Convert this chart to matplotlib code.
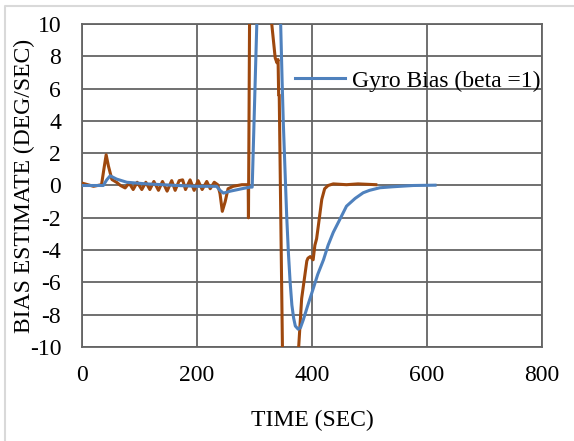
import matplotlib.pyplot as plt
from matplotlib.lines import Line2D

# gyro bias estimate, beta = 1
t_blue = [0, 20, 37, 43, 49, 60, 78, 112, 140, 165, 200, 234, 240, 246, 258, 278, 292,
          296, 304, 315, 325, 335, 345.5, 348, 350, 353, 356, 359, 362, 365, 368, 371,
          376, 380, 385, 392, 402, 410, 420, 428, 437, 447, 460, 475, 489, 500, 518,
          540, 576, 614]
b_blue = [0, 0, 0, 0.35, 0.6, 0.4, 0.2, 0.1, 0.05, 0, -0.05, -0.05, -0.3, -0.47, -0.35, -0.2, -0.1,
          -0.1, 10, 18, 21, 18, 10, 6.5, 4.0, 1.0, -1.9, -4.2, -6.0, -7.4, -8.2, -8.7,
          -8.9, -8.8, -8.3, -7.5, -6.4, -5.5, -4.6, -3.7, -2.9, -2.2, -1.28, -0.8, -0.45, -0.3, -0.14,
          -0.08, 0, 0.02]

# second estimate
t_brown = [0, 10, 20, 34, 38, 42, 46, 52, 60, 67, 75, 82, 89, 96, 104, 111, 118, 125, 133,
           140, 148, 156, 162, 169, 175, 180, 188, 195, 202, 209, 217, 223, 230, 236,
           240, 244, 249, 254, 263, 278, 286, 289, 289.5, 292, 300, 310, 320, 330,
           336, 339, 341, 342, 343, 350, 360, 370, 377, 382, 391, 393, 397, 402, 405,
           408, 411, 417, 422, 428, 437, 460, 480, 511]
b_brown = [0.15, 0.05, -0.05, 0.05, 1.0, 1.9, 1.2, 0.37, 0.2, 0.0, -0.15, 0.15, -0.25, 0.2, -0.25, 0.2, -0.25, 0.25, -0.3,
           0.25, -0.35, 0.3, -0.3, 0.3, 0.35, -0.25, 0.35, -0.3, 0.3, -0.25, 0.25, -0.2, 0.2, 0.05,
           -0.5, -1.6, -1.0, -0.2, -0.05, 0.05, 0.05, 0.05, -2.0, 14, 16, 15, 13, 10,
           7.9, 7.6, 7.8, 5.6, 5.6, -14, -16, -14, -9.9, -7.0, -4.67, -4.5, -4.4, -4.6, -3.7,
           -3.3, -2.5, -0.86, -0.2, 0.0, 0.1, 0.05, 0.1, 0.05]

plt.rcParams['font.family'] = ['Liberation Serif', 'DejaVu Serif']
plt.rcParams['axes.unicode_minus'] = False

fig = plt.figure(figsize=(5.74, 4.41), dpi=100)
ax = fig.add_axes([82 / 574, 1 - 347 / 441, 460 / 574, 323 / 441])

grid_c = '#646464'
ax.plot(t_brown, b_brown, color='#9E480E', lw=2.2, zorder=3)
ax.plot(t_blue, b_blue, color='#4F81BD', lw=2.2, zorder=4, label='Gyro Bias (beta =1)')

ax.set_xlim(0, 800)
ax.set_ylim(-10, 10)
ax.set_xticks(range(0, 801, 200))
ax.set_yticks(range(-10, 11, 2))
ax.grid(True, color=grid_c, lw=1.3)
ax.set_axisbelow(True)
for s in ax.spines.values():
    s.set_color(grid_c)
    s.set_linewidth(1.3)
ax.tick_params(length=0, labelsize=17, colors='black')
ax.tick_params(axis='x', pad=13)
ax.tick_params(axis='y', pad=15)

ax.set_xlabel('TIME (SEC)', fontsize=17, labelpad=17)
ax.set_ylabel('BIAS ESTIMATE (DEG/SEC)', fontsize=17)
ax.yaxis.set_label_coords(-0.102, 0.5)

ax.legend(loc='center left', bbox_to_anchor=(0.463, 0.824), frameon=False,
          fontsize=17, handlelength=2.1, handletextpad=0.3,
          borderpad=0, borderaxespad=0)

# chart area border (left and top edges show)
fig.lines.append(Line2D([5 / 574, 5 / 574, 1], [0, 1 - 6 / 441, 1 - 6 / 441],
                        transform=fig.transFigure, color='#d9d9d9', lw=1.5))

fig.savefig('out.png', dpi=100)
